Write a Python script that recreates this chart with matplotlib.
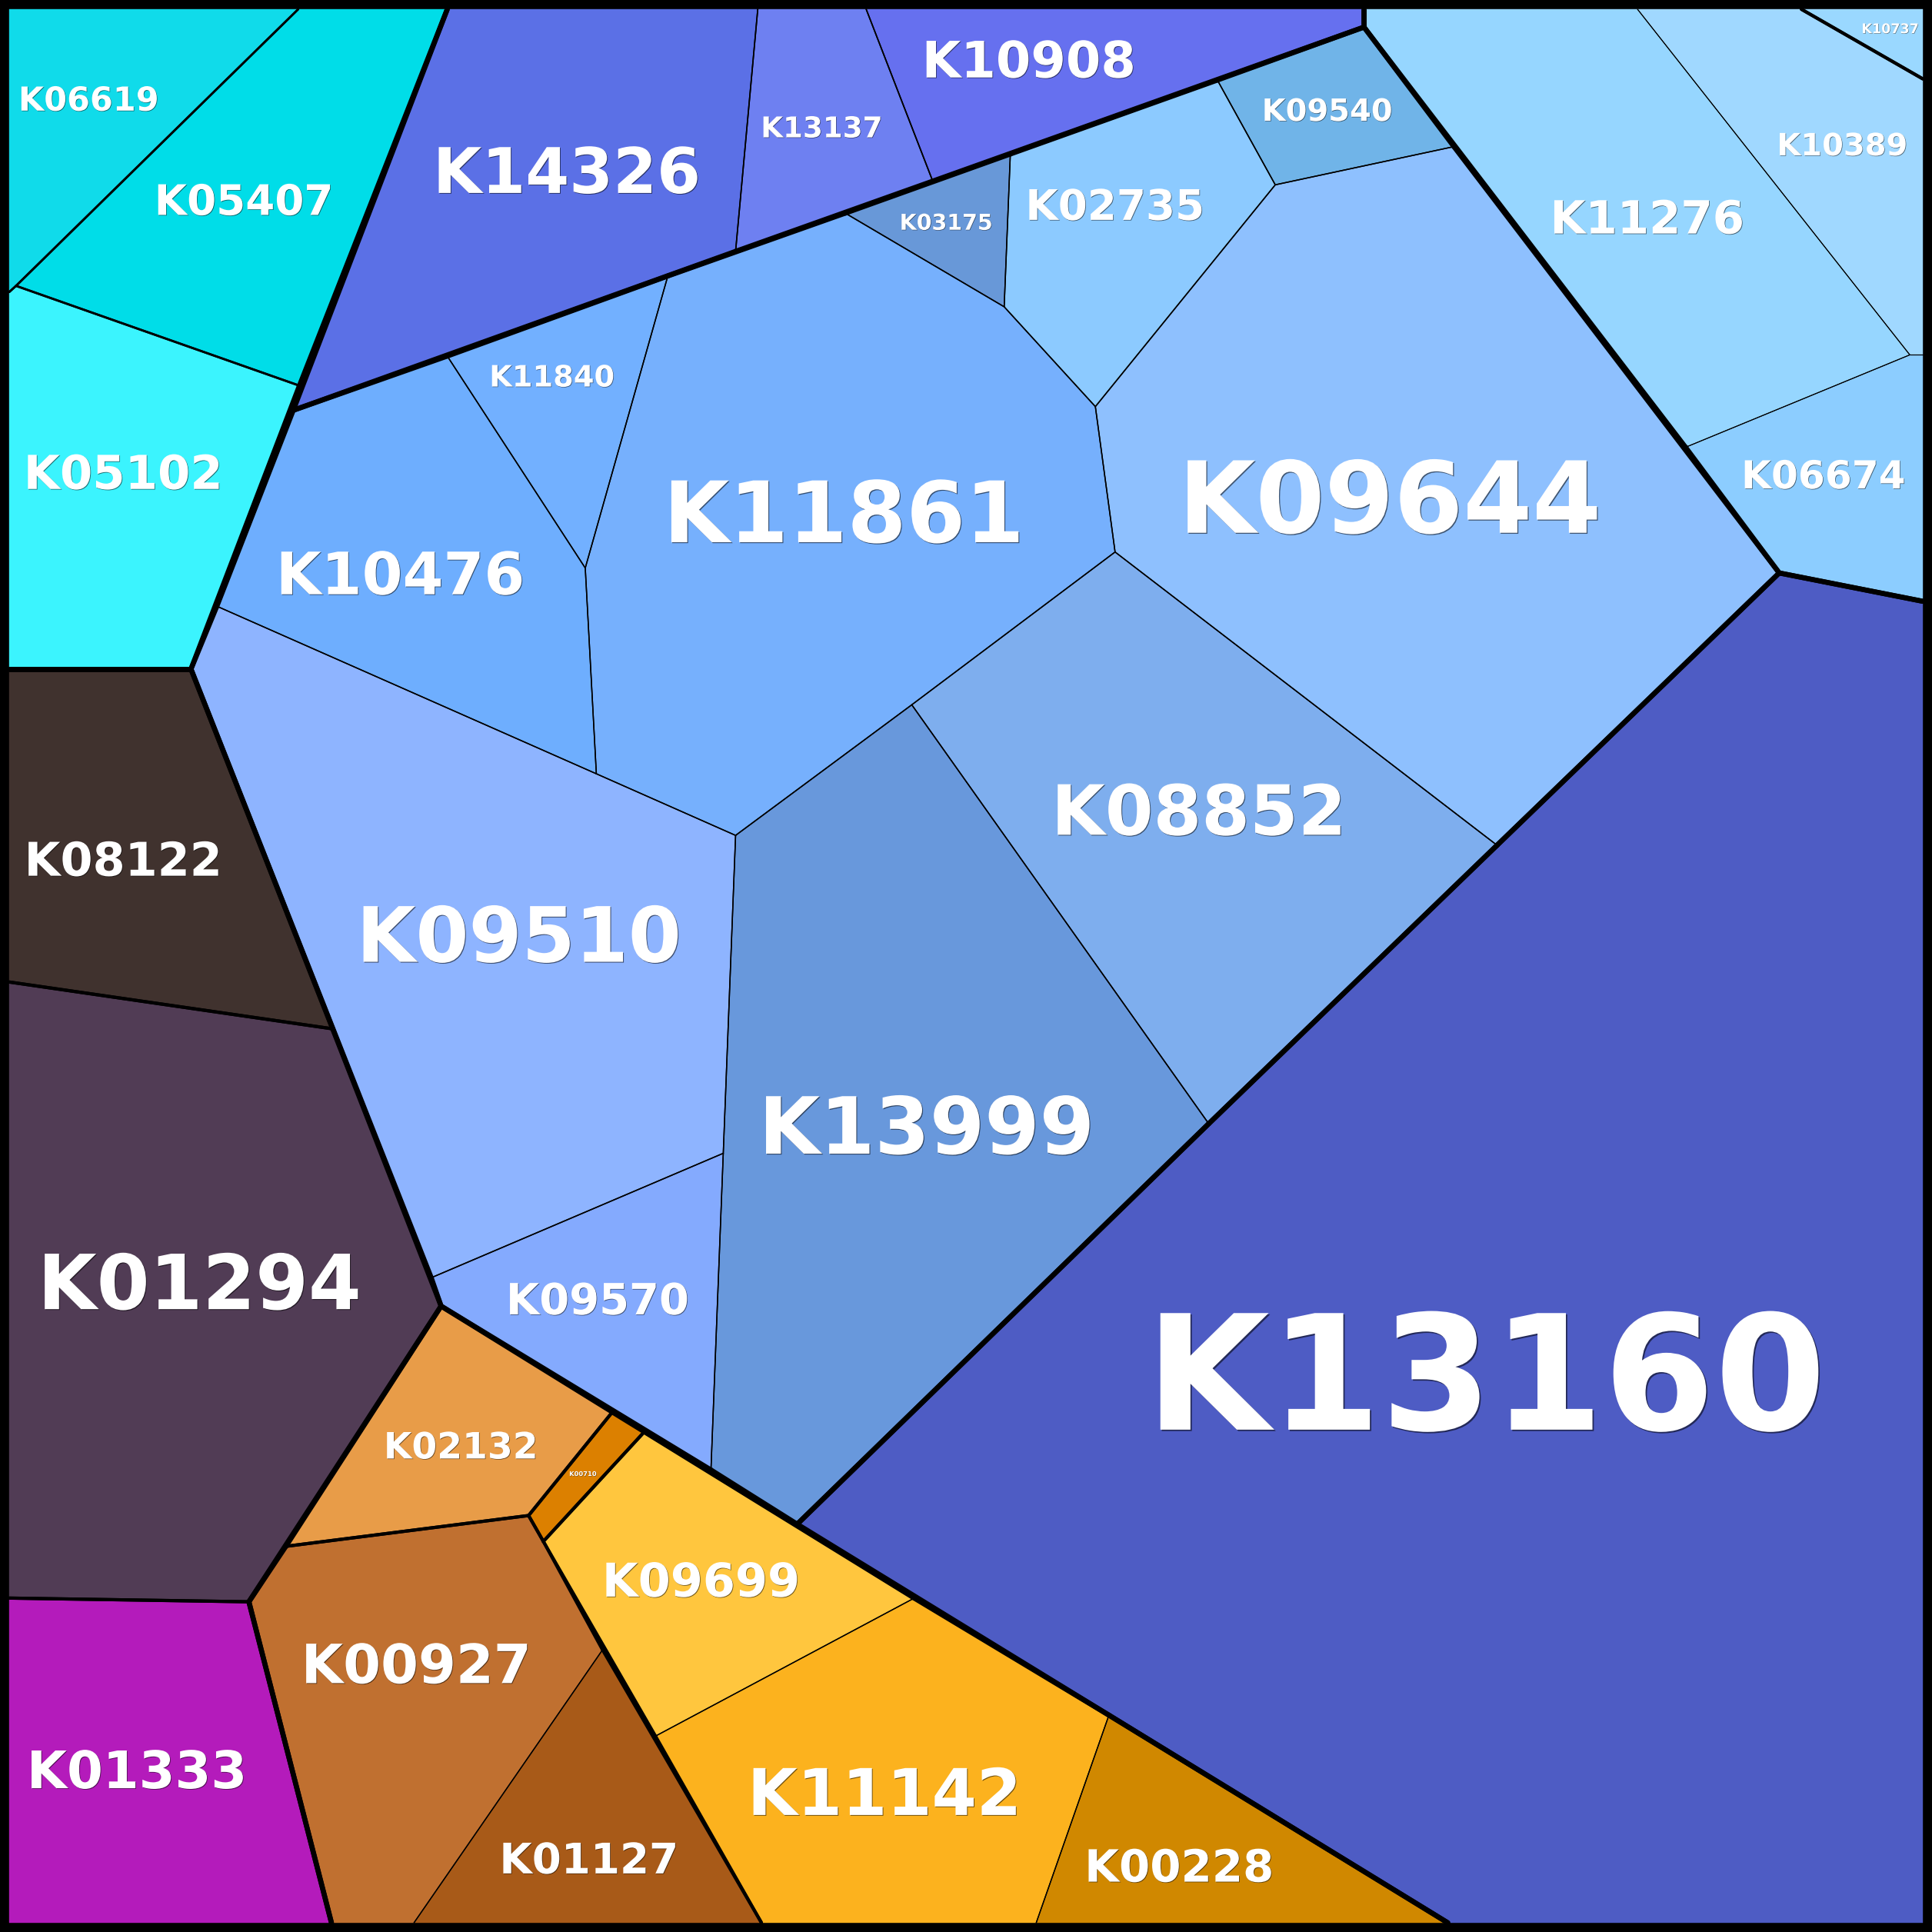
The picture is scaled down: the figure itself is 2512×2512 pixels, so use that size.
import matplotlib
matplotlib.use("Agg")
import matplotlib.pyplot as plt
from matplotlib.patches import Polygon
from matplotlib.path import Path
import matplotlib.patheffects as pe
import numpy as np

# ---------------- data ----------------
names = ["K06619", "K05407", "K05102", "K14326", "K13137", "K10908",
         "K11840", "K10476", "K11861", "K03175", "K02735", "K09540",
         "K09644", "K08852", "K13999", "K09510", "K09570",
         "K11276", "K10389", "K10737", "K06674", "K13160",
         "K08122", "K01294", "K01333",
         "K02132", "K00710", "K09699", "K00927", "K01127", "K11142", "K00228"]

group1 = ["cyan"] * 3 + ["blue"] * 3 + ["lb"] * 11 + ["sky"] * 4 + ["main"] + \
         ["dark"] * 3 + ["orange"] * 7
group2 = ["c", "c", "c", "b", "b", "b"] + ["l"] * 11 + ["s", "s", "t", "s", "m",
          "d1", "d2", "d3", "o1", "o2", "o3", "o4", "o4", "o3", "o3"]

colors = ["#10dbea", "#00dde8", "#3bf4fe", "#5b70e6", "#6e80f1", "#6670ef",
          "#72b0ff", "#6eaefe", "#76b0fd", "#6898d8", "#8ccaff", "#70b4e8",
          "#8ec0fe", "#7eaeee", "#6898dc", "#8eb4ff", "#84aafe",
          "#96d6ff", "#a0d8ff", "#9ad8ff", "#8ccdff", "#4e5cc4",
          "#40322e", "#513c55", "#b41bbb",
          "#e89c48", "#dc8000", "#ffc63e", "#c07030", "#a85a18", "#fcb21e", "#d08800"]

# cell outlines of the Voronoi treemap (canvas units 0..1568, y downward)
cell_vertices = {
    "K06619": [(7, 7), (242, 7), (13, 232), (7, 237)],
    "K05407": [(242, 7), (363, 7), (243, 313), (13, 232)],
    "K05102": [(7, 237), (13, 232), (243, 313), (155, 543), (7, 543)],
    "K14326": [(363, 7), (615, 7), (597, 204), (238, 333)],
    "K13137": [(615, 7), (703, 7), (757, 147), (597, 204)],
    "K10908": [(703, 7), (1107, 7), (1107, 22), (757, 147)],
    "K11840": [(363, 289), (542, 224), (475, 461)],
    "K10476": [(238, 333), (363, 289), (475, 461), (484, 628), (176, 492)],
    "K11861": [(542, 224), (686, 173), (815, 249), (889, 330), (905, 448),
               (740, 572), (597, 678), (484, 628), (475, 461)],
    "K03175": [(686, 173), (820, 125), (815, 249)],
    "K02735": [(820, 125), (988, 65), (1035, 150), (889, 330), (815, 249)],
    "K09540": [(988, 65), (1107, 22), (1180, 119), (1035, 150)],
    "K09644": [(1035, 150), (1180, 119), (1444, 465), (1215, 686), (905, 448), (889, 330)],
    "K08852": [(905, 448), (1215, 686), (981, 912), (740, 572)],
    "K13999": [(740, 572), (981, 912), (647, 1237), (577, 1193), (587, 936), (597, 678)],
    "K09510": [(176, 492), (484, 628), (597, 678), (587, 936), (350, 1037), (155, 543)],
    "K09570": [(350, 1037), (587, 936), (577, 1193), (358, 1060)],
    "K11276": [(1107, 7), (1329, 7), (1550, 288), (1368, 363), (1107, 22)],
    "K10389": [(1329, 7), (1462, 7), (1561, 64), (1561, 288), (1550, 288)],
    "K10737": [(1462, 7), (1561, 7), (1561, 64)],
    "K06674": [(1368, 363), (1550, 288), (1561, 288), (1561, 488), (1444, 465)],
    "K13160": [(1444, 465), (1561, 488), (1561, 1561), (1175, 1561), (647, 1237),
               (981, 912), (1215, 686)],
    "K08122": [(7, 543), (155, 543), (270, 835), (7, 797)],
    "K01294": [(7, 797), (270, 835), (358, 1060), (202, 1300), (7, 1297)],
    "K01333": [(7, 1297), (202, 1300), (269, 1561), (7, 1561)],
    "K02132": [(358, 1060), (497, 1146), (429, 1230), (232, 1255)],
    "K00710": [(497, 1146), (523, 1162), (441, 1251), (429, 1230)],
    "K09699": [(523, 1162), (742, 1297), (532, 1409), (441, 1251)],
    "K00927": [(232, 1255), (429, 1230), (441, 1251), (489, 1339), (336, 1561),
               (269, 1561), (202, 1300)],
    "K01127": [(489, 1339), (618, 1561), (336, 1561)],
    "K11142": [(532, 1409), (742, 1297), (900, 1392), (841, 1561), (618, 1561)],
    "K00228": [(900, 1392), (1175, 1561), (841, 1561)],
}

# ---------------- style ----------------
label_pos = {
    "K06619": (72, 80), "K05407": (198, 162), "K05102": (100, 383),
    "K14326": (460, 138), "K13137": (667, 103), "K10908": (835, 48),
    "K09540": (1077, 89), "K03175": (768, 180), "K02735": (905, 166),
    "K11840": (448, 305), "K11861": (685, 415), "K10476": (325, 465),
    "K09644": (1128, 403), "K11276": (1337, 176), "K10389": (1495, 117),
    "K10737": (1534, 23), "K06674": (1480, 385), "K08852": (973, 657),
    "K09510": (421, 758), "K13999": (752, 913), "K09570": (485, 1054),
    "K13160": (1206, 1113), "K08122": (100, 697), "K01294": (162, 1040),
    "K01333": (111, 1436), "K02132": (374, 1173), "K00710": (473, 1196),
    "K09699": (569, 1282), "K00927": (338, 1350), "K01127": (478, 1508),
    "K11142": (718, 1454), "K00228": (957, 1514),
}
label_size = {
    "K06619": 31.4, "K05407": 40, "K05102": 44.5, "K14326": 59.8, "K13137": 27.2,
    "K10908": 47.8, "K09540": 29.2, "K03175": 20.8, "K02735": 40, "K11840": 28,
    "K11861": 80.6, "K10476": 55.6, "K09644": 94.5, "K11276": 43.4, "K10389": 29.2,
    "K10737": 12.8, "K06674": 36.7, "K08852": 65.9, "K09510": 72.6, "K13999": 75,
    "K09570": 40.9, "K13160": 152, "K08122": 44.2, "K01294": 72.3, "K01333": 49.2,
    "K02132": 34.5, "K00710": 6.1, "K09699": 44.2, "K00927": 51.4, "K01127": 40,
    "K11142": 61.2, "K00228": 42.3,
}
FS_SCALE = 0.985
inner_width = {"cyan": 2.0, "blue": 1.2, "lb": 1.1, "sky": 0.8, "main": 1.0,
               "dark": 1.0, "orange": 1.0}
W1, W2 = 4.7, 3.0
S = 1568.0
LO, HI = 7.5, 1560.5

fig = plt.figure(figsize=(25.12, 25.12), dpi=100, facecolor="black")
ax = fig.add_axes([0, 0, 1, 1])
ax.set_facecolor("black")
ax.set_xlim(0, S)
ax.set_ylim(S, 0)
ax.axis("off")

polys = {}
for n in names:
    v = np.array(cell_vertices[n], dtype=float)
    v = np.where(v <= 8, LO, v)
    v = np.where(v >= 1560, HI, v)
    polys[n] = v

info = {n: (g1, g2, c) for n, g1, g2, c in zip(names, group1, group2, colors)}
paths = {n: Path(polys[n]) for n in names}

for n in names:
    ax.add_patch(Polygon(polys[n], closed=True, facecolor=info[n][2],
                         edgecolor=info[n][2], linewidth=0.3, zorder=1))


def owner(pt):
    for n in names:
        if paths[n].contains_point(pt):
            return n
    return None


segs = []
for n in names:
    v = polys[n]
    k = len(v)
    for i in range(k):
        p, q = v[i], v[(i + 1) % k]
        d = q - p
        L = np.hypot(*d)
        if L < 1e-6:
            continue
        nn = np.array([-d[1], d[0]]) / L
        m = (p + q) / 2
        a, b = owner(m + 2.5 * nn), owner(m - 2.5 * nn)
        other = b if a == n else a
        if other is None or other == n:
            continue
        if info[n][0] != info[other][0]:
            lw = W1
        elif info[n][1] != info[other][1]:
            lw = W2
        else:
            lw = inner_width[info[n][0]]
        segs.append((lw, p, q))

for lw, p, q in sorted(segs, key=lambda s: s[0]):
    ax.plot([p[0], q[0]], [p[1], q[1]], color="black", linewidth=lw,
            solid_capstyle="round", zorder=2 + lw)

for n in names:
    x, y = label_pos[n]
    fs = label_size[n] * FS_SCALE
    em = fs / (0.72 * 1.602)
    off = 0.3 + fs / 150.0
    ax.text(x, y + 0.3645 * em, n, ha="center", va="baseline", fontsize=fs,
            fontweight="bold", color="white", family="DejaVu Sans", zorder=20,
            path_effects=[pe.SimplePatchShadow(offset=(off, -off),
                                               shadow_rgbFace="black", alpha=0.55),
                          pe.Normal()])

fig.savefig("out.png", dpi=100, facecolor="black")
